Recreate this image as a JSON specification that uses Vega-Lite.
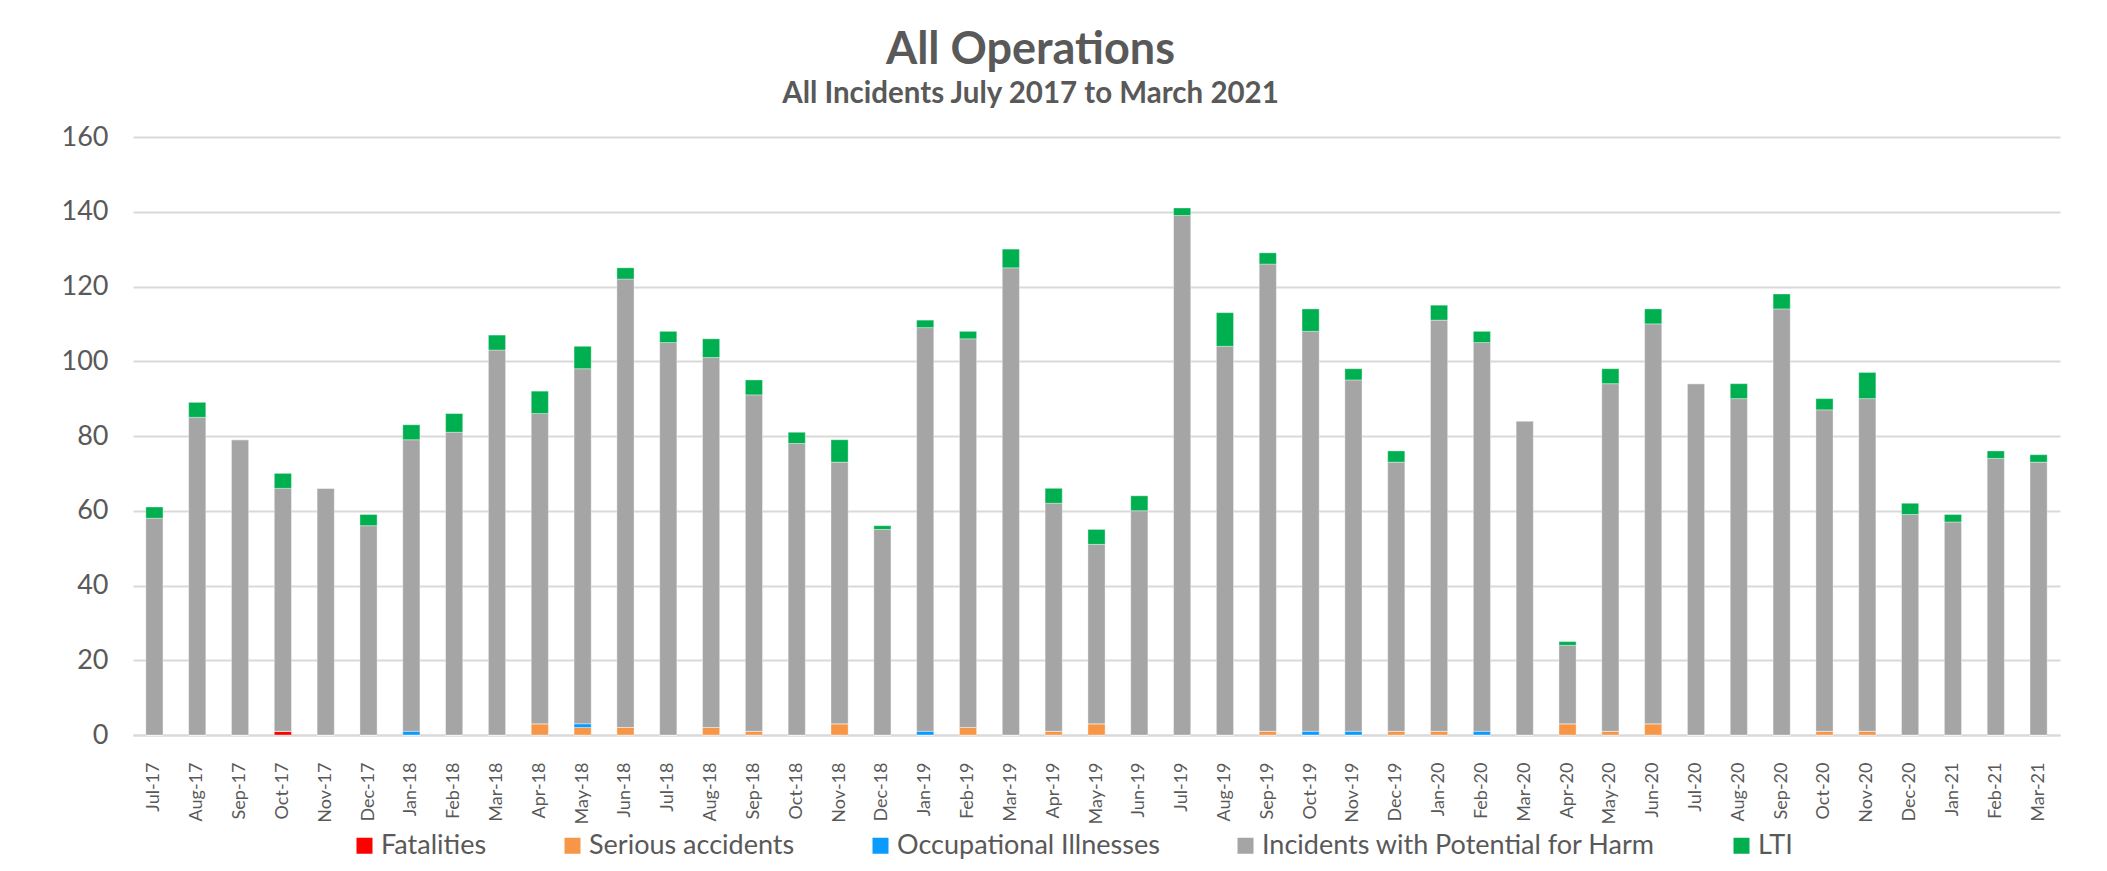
{
  "$schema": "https://vega.github.io/schema/vega-lite/v6.json",
  "width": 1927,
  "height": 598,
  "autosize": {"type": "none"},
  "padding": {"left": 133, "top": 137, "right": 47, "bottom": 136},
  "background": "white",
  "title": {
    "text": "All Operations",
    "subtitle": "All Incidents July 2017 to March 2021",
    "anchor": "middle",
    "frame": "group",
    "font": "Lato",
    "fontSize": 45,
    "fontWeight": "bold",
    "color": "#595959",
    "subtitleFont": "Lato",
    "subtitleFontSize": 29.5,
    "subtitleFontWeight": "bold",
    "subtitleColor": "#595959",
    "subtitlePadding": 7,
    "offset": 15,
    "dx": -66
  },
  "data": {
    "values": [
      {"m": "Jul-17", "a_fat": 0, "b_ser": 0, "c_occ": 0, "d_pot": 58, "e_lti": 3},
      {"m": "Aug-17", "a_fat": 0, "b_ser": 0, "c_occ": 0, "d_pot": 85, "e_lti": 4},
      {"m": "Sep-17", "a_fat": 0, "b_ser": 0, "c_occ": 0, "d_pot": 79, "e_lti": 0},
      {"m": "Oct-17", "a_fat": 1, "b_ser": 0, "c_occ": 0, "d_pot": 65, "e_lti": 4},
      {"m": "Nov-17", "a_fat": 0, "b_ser": 0, "c_occ": 0, "d_pot": 66, "e_lti": 0},
      {"m": "Dec-17", "a_fat": 0, "b_ser": 0, "c_occ": 0, "d_pot": 56, "e_lti": 3},
      {"m": "Jan-18", "a_fat": 0, "b_ser": 0, "c_occ": 1, "d_pot": 78, "e_lti": 4},
      {"m": "Feb-18", "a_fat": 0, "b_ser": 0, "c_occ": 0, "d_pot": 81, "e_lti": 5},
      {"m": "Mar-18", "a_fat": 0, "b_ser": 0, "c_occ": 0, "d_pot": 103, "e_lti": 4},
      {"m": "Apr-18", "a_fat": 0, "b_ser": 3, "c_occ": 0, "d_pot": 83, "e_lti": 6},
      {"m": "May-18", "a_fat": 0, "b_ser": 2, "c_occ": 1, "d_pot": 95, "e_lti": 6},
      {"m": "Jun-18", "a_fat": 0, "b_ser": 2, "c_occ": 0, "d_pot": 120, "e_lti": 3},
      {"m": "Jul-18", "a_fat": 0, "b_ser": 0, "c_occ": 0, "d_pot": 105, "e_lti": 3},
      {"m": "Aug-18", "a_fat": 0, "b_ser": 2, "c_occ": 0, "d_pot": 99, "e_lti": 5},
      {"m": "Sep-18", "a_fat": 0, "b_ser": 1, "c_occ": 0, "d_pot": 90, "e_lti": 4},
      {"m": "Oct-18", "a_fat": 0, "b_ser": 0, "c_occ": 0, "d_pot": 78, "e_lti": 3},
      {"m": "Nov-18", "a_fat": 0, "b_ser": 3, "c_occ": 0, "d_pot": 70, "e_lti": 6},
      {"m": "Dec-18", "a_fat": 0, "b_ser": 0, "c_occ": 0, "d_pot": 55, "e_lti": 1},
      {"m": "Jan-19", "a_fat": 0, "b_ser": 0, "c_occ": 1, "d_pot": 108, "e_lti": 2},
      {"m": "Feb-19", "a_fat": 0, "b_ser": 2, "c_occ": 0, "d_pot": 104, "e_lti": 2},
      {"m": "Mar-19", "a_fat": 0, "b_ser": 0, "c_occ": 0, "d_pot": 125, "e_lti": 5},
      {"m": "Apr-19", "a_fat": 0, "b_ser": 1, "c_occ": 0, "d_pot": 61, "e_lti": 4},
      {"m": "May-19", "a_fat": 0, "b_ser": 3, "c_occ": 0, "d_pot": 48, "e_lti": 4},
      {"m": "Jun-19", "a_fat": 0, "b_ser": 0, "c_occ": 0, "d_pot": 60, "e_lti": 4},
      {"m": "Jul-19", "a_fat": 0, "b_ser": 0, "c_occ": 0, "d_pot": 139, "e_lti": 2},
      {"m": "Aug-19", "a_fat": 0, "b_ser": 0, "c_occ": 0, "d_pot": 104, "e_lti": 9},
      {"m": "Sep-19", "a_fat": 0, "b_ser": 1, "c_occ": 0, "d_pot": 125, "e_lti": 3},
      {"m": "Oct-19", "a_fat": 0, "b_ser": 0, "c_occ": 1, "d_pot": 107, "e_lti": 6},
      {"m": "Nov-19", "a_fat": 0, "b_ser": 0, "c_occ": 1, "d_pot": 94, "e_lti": 3},
      {"m": "Dec-19", "a_fat": 0, "b_ser": 1, "c_occ": 0, "d_pot": 72, "e_lti": 3},
      {"m": "Jan-20", "a_fat": 0, "b_ser": 1, "c_occ": 0, "d_pot": 110, "e_lti": 4},
      {"m": "Feb-20", "a_fat": 0, "b_ser": 0, "c_occ": 1, "d_pot": 104, "e_lti": 3},
      {"m": "Mar-20", "a_fat": 0, "b_ser": 0, "c_occ": 0, "d_pot": 84, "e_lti": 0},
      {"m": "Apr-20", "a_fat": 0, "b_ser": 3, "c_occ": 0, "d_pot": 21, "e_lti": 1},
      {"m": "May-20", "a_fat": 0, "b_ser": 1, "c_occ": 0, "d_pot": 93, "e_lti": 4},
      {"m": "Jun-20", "a_fat": 0, "b_ser": 3, "c_occ": 0, "d_pot": 107, "e_lti": 4},
      {"m": "Jul-20", "a_fat": 0, "b_ser": 0, "c_occ": 0, "d_pot": 94, "e_lti": 0},
      {"m": "Aug-20", "a_fat": 0, "b_ser": 0, "c_occ": 0, "d_pot": 90, "e_lti": 4},
      {"m": "Sep-20", "a_fat": 0, "b_ser": 0, "c_occ": 0, "d_pot": 114, "e_lti": 4},
      {"m": "Oct-20", "a_fat": 0, "b_ser": 1, "c_occ": 0, "d_pot": 86, "e_lti": 3},
      {"m": "Nov-20", "a_fat": 0, "b_ser": 1, "c_occ": 0, "d_pot": 89, "e_lti": 7},
      {"m": "Dec-20", "a_fat": 0, "b_ser": 0, "c_occ": 0, "d_pot": 59, "e_lti": 3},
      {"m": "Jan-21", "a_fat": 0, "b_ser": 0, "c_occ": 0, "d_pot": 57, "e_lti": 2},
      {"m": "Feb-21", "a_fat": 0, "b_ser": 0, "c_occ": 0, "d_pot": 74, "e_lti": 2},
      {"m": "Mar-21", "a_fat": 0, "b_ser": 0, "c_occ": 0, "d_pot": 73, "e_lti": 2}
    ]
  },
  "transform": [{"fold": ["a_fat", "b_ser", "c_occ", "d_pot", "e_lti"], "as": ["k", "v"]}],
  "mark": {"type": "bar", "stroke": "#FFFFFF", "strokeWidth": 1, "strokeOpacity": 0.35},
  "encoding": {
    "x": {
      "field": "m",
      "type": "nominal",
      "sort": null,
      "scale": {"paddingInner": 0.6, "paddingOuter": 0.3},
      "axis": {
        "title": null,
        "labelAngle": -90,
        "labelFont": "Lato",
        "labelFontSize": 18,
        "labelColor": "#595959",
        "ticks": false,
        "domainColor": "#D9D9D9",
        "domainWidth": 2,
        "labelPadding": 27
      }
    },
    "y": {
      "field": "v",
      "type": "quantitative",
      "stack": "zero",
      "scale": {"domain": [0, 160], "nice": false},
      "axis": {
        "title": null,
        "values": [0, 20, 40, 60, 80, 100, 120, 140, 160],
        "domain": false,
        "ticks": false,
        "gridColor": "#D9D9D9",
        "gridWidth": 2,
        "labelFont": "Lato",
        "labelFontSize": 27,
        "labelColor": "#595959",
        "labelPadding": 25
      }
    },
    "order": {"field": "k", "sort": "ascending"},
    "color": {
      "field": "k",
      "type": "nominal",
      "scale": {
        "domain": ["a_fat", "b_ser", "c_occ", "d_pot", "e_lti"],
        "range": ["#FF0000", "#F79646", "#0A9BFF", "#A5A5A5", "#00B050"]
      },
      "legend": {
        "title": null,
        "orient": "none",
        "legendX": 218,
        "legendY": 695,
        "padding": 0,
        "direction": "horizontal",
        "symbolType": "square",
        "symbolSize": 256,
        "symbolStrokeWidth": 0,
        "symbolOpacity": 1,
        "labelFont": "Lato",
        "labelFontSize": 27,
        "labelColor": "#595959",
        "labelLimit": 0,
        "labelOffset": 3,
        "columnPadding": 72,
        "labelExpr": "{'a_fat':'Fatalities','b_ser':'Serious accidents','c_occ':'Occupational Illnesses','d_pot':'Incidents with Potential for Harm','e_lti':'LTI'}[datum.label]"
      }
    }
  },
  "config": {"view": {"stroke": null}}
}
